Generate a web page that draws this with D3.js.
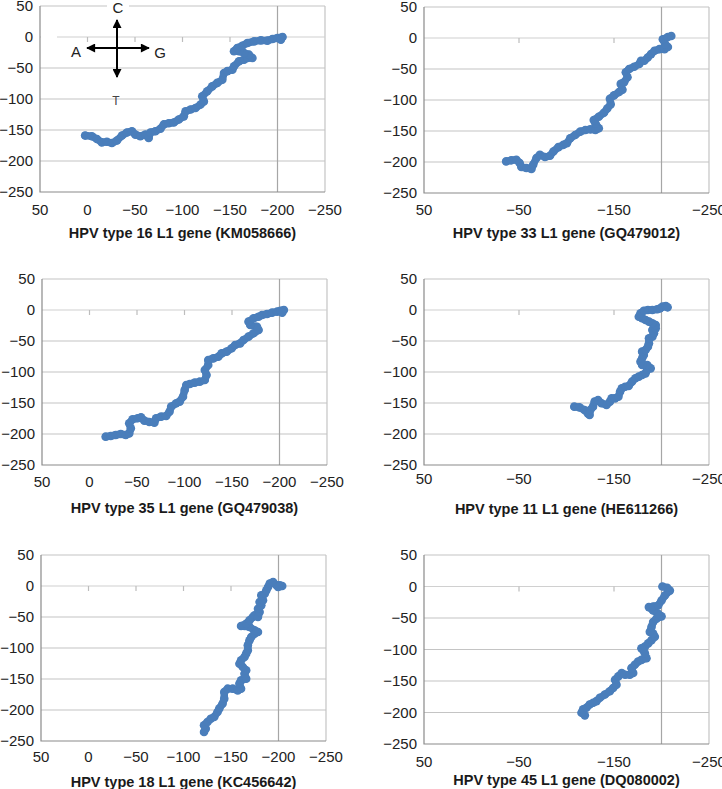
<!DOCTYPE html>
<html><head><meta charset="utf-8">
<script src="https://cdn.jsdelivr.net/npm/d3@7"></script>
<style>body{margin:0;background:#fff}svg{display:block}text{font-family:"Liberation Sans",Arial,sans-serif}</style>
</head><body>
<svg id="c" width="722" height="789"></svg>
<script>
// ---- data (x, y) ----
const walk16 = [[2.5,-159],[-4.6,-160],[-9.9,-164.5],[-15.1,-170],[-20.4,-169],[-25.7,-171],[-31,-167],[-36.3,-159],[-41.5,-154],[-46.8,-152],[-50.4,-157.5],[-55.6,-160],[-60.9,-157.5],[-64.4,-163],[-66.2,-154],[-71.5,-152],[-76.8,-148],[-80.3,-141],[-85.6,-139],[-90.8,-138],[-96.1,-133],[-101.4,-128],[-103.2,-120],[-108.5,-117],[-113.7,-114.5],[-119,-109],[-122.5,-104],[-120.8,-95.7],[-126,-87.6],[-131.3,-79.6],[-136.6,-74],[-141.9,-69],[-143.7,-58],[-147.2,-55],[-152.5,-52.7],[-154.2,-47.3],[-159.5,-39],[-164.8,-36.6],[-168.3,-33.9],[-173.6,-33.9],[-170,-28.5],[-164.8,-25.8],[-159.5,-23],[-154.2,-23],[-157.7,-17.7],[-163,-14],[-168.3,-9.7],[-175.4,-7],[-182.4,-5.4],[-189.4,-5.9],[-194.7,-3.2],[-200,-1.6],[-205.3,0],[-203.5,-4.3]];
const walk33 = [[-36.5,-199],[-41.8,-197.3],[-47.2,-196.3],[-50.7,-201.6],[-52.5,-208],[-57.8,-209.6],[-63.1,-211.2],[-64.9,-204.3],[-68.4,-193.6],[-72,-188.3],[-77.3,-192],[-82.6,-190],[-86.2,-183],[-91.5,-176],[-96.8,-172.3],[-100.4,-169.7],[-103.9,-161.7],[-109.2,-156.4],[-114.5,-151],[-119.9,-148.4],[-125.2,-147.3],[-130.5,-148.4],[-134,-145.7],[-130.5,-137.8],[-128.7,-132.4],[-134,-127],[-139.4,-120.7],[-142.9,-113.8],[-146.5,-107],[-145.7,-97.9],[-150,-92.6],[-155.3,-87.2],[-158.9,-83.5],[-157.1,-74],[-160.6,-71.3],[-164.2,-63.3],[-162.4,-55.3],[-166,-50],[-171.3,-46.3],[-176.6,-42],[-178.4,-36.7],[-181.9,-36.7],[-185.5,-31.4],[-189,-26],[-192.6,-20.7],[-197.9,-18],[-203.2,-18],[-206.7,-14.4],[-203.9,-10.1],[-201.4,-2.1],[-206.7,1.6],[-210.3,3.2]];
const walk35 = [[-17,-204.3],[-22.3,-203.2],[-27.6,-201.6],[-32.9,-200],[-38.2,-201.6],[-41.8,-199],[-43.5,-190.9],[-41.8,-182.8],[-45.3,-176.3],[-50.6,-174.7],[-54.2,-173.1],[-57.7,-178.5],[-63,-180.6],[-68.3,-181.7],[-70.1,-174.7],[-75.4,-172],[-80.7,-171],[-84.2,-164],[-86,-155.9],[-91.3,-150.5],[-94.9,-147.8],[-98.4,-139.8],[-100.2,-129],[-101.9,-121],[-105.5,-119.4],[-110.8,-117.2],[-116.1,-115.6],[-121.4,-112.9],[-123.2,-104.8],[-121.4,-96.8],[-125,-88.7],[-125,-80.6],[-130.3,-78],[-135.6,-75.3],[-139.1,-69.9],[-144.4,-67.2],[-149.7,-61.8],[-153.3,-56.5],[-158.6,-53.8],[-162.1,-48.4],[-167.4,-43],[-172.7,-37.6],[-178,-32.3],[-176.3,-26.9],[-169.2,-24.2],[-167.4,-18.8],[-172.7,-13.4],[-178,-10.8],[-181.6,-8.1],[-186.9,-6.5],[-192.2,-4.3],[-197.5,-2.7],[-201,-1.1],[-204.6,0],[-202.8,-4.3]];
const walk11 = [[-108.2,-155.9],[-113.6,-157],[-118.9,-161.3],[-122.5,-166.7],[-124.3,-169.4],[-125,-161.3],[-127.9,-155.9],[-129.6,-147.8],[-133.2,-145.2],[-136.8,-150.5],[-142.1,-153.2],[-145.7,-147.8],[-147.5,-142.5],[-151.1,-142.5],[-154.6,-139.8],[-156.4,-131.7],[-158.2,-126.3],[-161.8,-123.7],[-165.4,-122.6],[-168.9,-115.6],[-172.5,-110.2],[-176.1,-107.5],[-179.6,-104.8],[-183.2,-102.2],[-185,-95.7],[-188.6,-94.1],[-185,-88.7],[-179.6,-88.7],[-177.9,-83.3],[-179.6,-78],[-181.4,-72.6],[-179.6,-67.2],[-183.2,-64.5],[-185.7,-59.1],[-186.8,-53.8],[-186.8,-45.7],[-190.4,-43],[-192.1,-37.6],[-190.4,-32.3],[-193.9,-29.6],[-193.9,-24.2],[-190.4,-21.5],[-186.8,-18.8],[-183.2,-16.1],[-179.6,-13.4],[-176.1,-10.8],[-177.9,-5.4],[-181.4,-1.1],[-185.7,0],[-190.4,0],[-195.7,1.1],[-198.6,2.7],[-201.1,5.4],[-204.6,6.5],[-206.4,4.3]];
const walk18 = [[-121.6,-235.5],[-123.4,-230.1],[-121.6,-224.7],[-125.2,-219.4],[-128.7,-214],[-132.3,-211.3],[-135.8,-203.2],[-137.6,-197.8],[-141.1,-189.8],[-142.9,-181.7],[-142.9,-171],[-146.5,-165.6],[-151.8,-165.6],[-157.1,-168.3],[-160.6,-165.6],[-158.9,-157.5],[-160.6,-152.2],[-166,-149.5],[-164.2,-141.4],[-166,-136],[-162.4,-130.6],[-158.9,-125.3],[-160.6,-119.9],[-164.2,-114.5],[-166,-109.1],[-167.7,-103.8],[-167.7,-95.7],[-169.5,-87.6],[-171.3,-82.3],[-174.8,-76.9],[-178.4,-74.2],[-174.8,-71.5],[-169.5,-66.1],[-164.2,-64.5],[-160.6,-64.5],[-166,-60.8],[-169.5,-55.4],[-173,-50],[-174.8,-47.3],[-178.4,-50],[-180.1,-41.9],[-178.4,-36.6],[-181.9,-31.2],[-180.1,-25.8],[-183.7,-23.1],[-181.9,-15.1],[-185.5,-12.4],[-187.2,-7],[-189,-1.6],[-190.8,3.8],[-194.3,6.5],[-197.9,1.1],[-201.4,1.1],[-203.9,0],[-199.6,-1.6]];
const walk45 = [[-119.3,-204.5],[-115.8,-200.3],[-117.5,-195],[-121,-192.4],[-124.4,-187.2],[-128.1,-184.6],[-131.6,-181.9],[-135.1,-176.7],[-140.4,-171.5],[-145.6,-166.2],[-149.1,-161],[-152.6,-155.8],[-151.1,-147.9],[-154.6,-142.7],[-158.1,-137.4],[-161.6,-140],[-166.7,-140],[-170.2,-137.4],[-168.4,-129.6],[-171.9,-124.3],[-175.4,-119.1],[-178.9,-116.5],[-184.2,-113.9],[-182.5,-106],[-178.9,-98.2],[-182.5,-95.5],[-186,-90.3],[-189.5,-85.1],[-193,-79.8],[-191.2,-74.6],[-187.7,-72],[-189.5,-64.1],[-191.2,-56.3],[-194.7,-51],[-200,-47.4],[-196.5,-43.2],[-191.2,-38],[-186.7,-32.7],[-191.2,-31.7],[-196.5,-30.1],[-200,-22.3],[-203.5,-14.4],[-208.8,-6.5],[-206,-2],[-201,0]];

const titles = ["HPV type 16 L1 gene (KM058666)","HPV type 33 L1 gene (GQ479012)","HPV type 35 L1 gene (GQ479038)","HPV type 11 L1 gene (HE611266)","HPV type 18 L1 gene (KC456642)","HPV type 45 L1 gene (DQ080002)"];
const yTicks = [50,0,-50,-100,-150,-200,-250];
const xTicksFine = [50,0,-50,-100,-150,-200,-250];
const xTicksCoarse = [50,-50,-150,-250];
const walks = [walk16,walk33,walk35,walk11,walk18,walk45];

// ---- layout ----
const panels = [
  {l:40, r:325, t:6,   b:192, ticks:xTicksFine,   ly:215, ty:238},
  {l:424,r:709, t:7,   b:193, ticks:xTicksCoarse, ly:215, ty:238},
  {l:42, r:327, t:279, b:465, ticks:xTicksFine,   ly:487, ty:513},
  {l:424,r:709, t:279, b:465, ticks:xTicksCoarse, ly:484, ty:514},
  {l:41, r:326, t:555, b:741, ticks:xTicksFine,   ly:762, ty:787},
  {l:424,r:709, t:555, b:744, ticks:xTicksCoarse, ly:767, ty:785}
];
const fmt = d3.format("d");
const svg = d3.select("#c");
const blue = "#4a7ebb";

panels.forEach((p,i)=>{
  const x = d3.scaleLinear().domain([50,-250]).range([p.l,p.r]);
  const y = d3.scaleLinear().domain([50,-250]).range([p.t,p.b]);
  const g = svg.append("g");
  g.selectAll("line.grid").data(yTicks.filter(v=>v!==-250 && v!==0)).join("line")
    .attr("x1",p.l).attr("x2",p.r).attr("y1",d=>y(d)).attr("y2",d=>y(d))
    .attr("stroke","#c4c4c4").attr("stroke-width",1.2);
  g.append("line").attr("x1",p.r).attr("x2",p.r).attr("y1",p.t).attr("y2",p.b).attr("stroke","#c4c4c4").attr("stroke-width",1.2);
  g.append("line").attr("x1",x(-200)).attr("x2",x(-200)).attr("y1",p.t).attr("y2",p.b).attr("stroke","#a6a6a6").attr("stroke-width",1.2);
  g.append("line").attr("x1",p.l).attr("x2",p.r).attr("y1",y(0)).attr("y2",y(0)).attr("stroke","#d0d0d0").attr("stroke-width",1.2);
  g.selectAll("line.tk").data(p.ticks.filter(v=>v!==50 && v!==-250 && v!==-200)).join("line")
    .attr("x1",d=>x(d)).attr("x2",d=>x(d)).attr("y1",y(0)).attr("y2",y(0)+5)
    .attr("stroke","#bdbdbd").attr("stroke-width",1.2);
  g.append("path").attr("d",`M${p.l},${p.t}V${p.b}H${p.r}`).attr("fill","none").attr("stroke","#8a8a8a").attr("stroke-width",1.2);
  g.selectAll("text.yl").data(yTicks).join("text")
    .attr("x",p.l-7).attr("y",d=>y(d)).attr("dy","0.36em").attr("text-anchor","end")
    .attr("font-size",15).attr("fill","#222").text(d=>fmt(d));
  g.selectAll("text.xl").data(p.ticks).join("text")
    .attr("x",d=>x(d)).attr("y",p.ly).attr("text-anchor","middle")
    .attr("font-size",15).attr("fill","#222").text(d=>fmt(d));
  g.append("text").attr("x",(p.l+p.r)/2).attr("y",p.ty).attr("text-anchor","middle")
    .attr("font-size",14.5).attr("font-weight","bold").attr("fill","#1a1a1a").text(titles[i]);
  const w = walks[i];
  const line = d3.line().x(d=>x(d[0])).y(d=>y(d[1])).curve(d3.curveLinear);
  g.append("path").attr("d",line(w)).attr("fill","none").attr("stroke",blue)
    .attr("stroke-width",7.5).attr("stroke-linejoin","round").attr("stroke-linecap","round");
  g.selectAll("circle").data(w).join("circle")
    .attr("cx",d=>x(d[0])).attr("cy",d=>y(d[1])).attr("r",4.3).attr("fill",blue);
});

// ---- direction legend in panel 1 ----
const defs = svg.append("defs");
defs.append("marker").attr("id","ah").attr("viewBox","0 0 10 10").attr("refX",9).attr("refY",5)
  .attr("markerWidth",10).attr("markerHeight",9).attr("markerUnits","userSpaceOnUse").attr("orient","auto-start-reverse")
  .append("path").attr("d","M0,0L10,5L0,10Z").attr("fill","#000");
const lg = svg.append("g");
lg.append("rect").attr("x",107).attr("y",0).attr("width",22).attr("height",15).attr("fill","#fff");
lg.append("rect").attr("x",41).attr("y",33).attr("width",16).attr("height",8).attr("fill","#fff");
lg.append("line").attr("x1",117).attr("x2",117).attr("y1",20).attr("y2",77).attr("stroke","#000").attr("stroke-width",2)
  .attr("marker-start","url(#ah)").attr("marker-end","url(#ah)");
lg.append("line").attr("x1",87).attr("x2",149).attr("y1",48).attr("y2",48).attr("stroke","#000").attr("stroke-width",2)
  .attr("marker-start","url(#ah)").attr("marker-end","url(#ah)");
lg.append("text").attr("x",118).attr("y",13).attr("text-anchor","middle").attr("font-size",15).attr("fill","#222").text("C");
lg.append("text").attr("x",76).attr("y",57).attr("text-anchor","middle").attr("font-size",15).attr("fill","#222").text("A");
lg.append("text").attr("x",160).attr("y",58).attr("text-anchor","middle").attr("font-size",15).attr("fill","#222").text("G");
lg.append("text").attr("x",116).attr("y",105).attr("text-anchor","middle").attr("font-size",12).attr("fill","#444").text("T");
</script>
</body></html>
